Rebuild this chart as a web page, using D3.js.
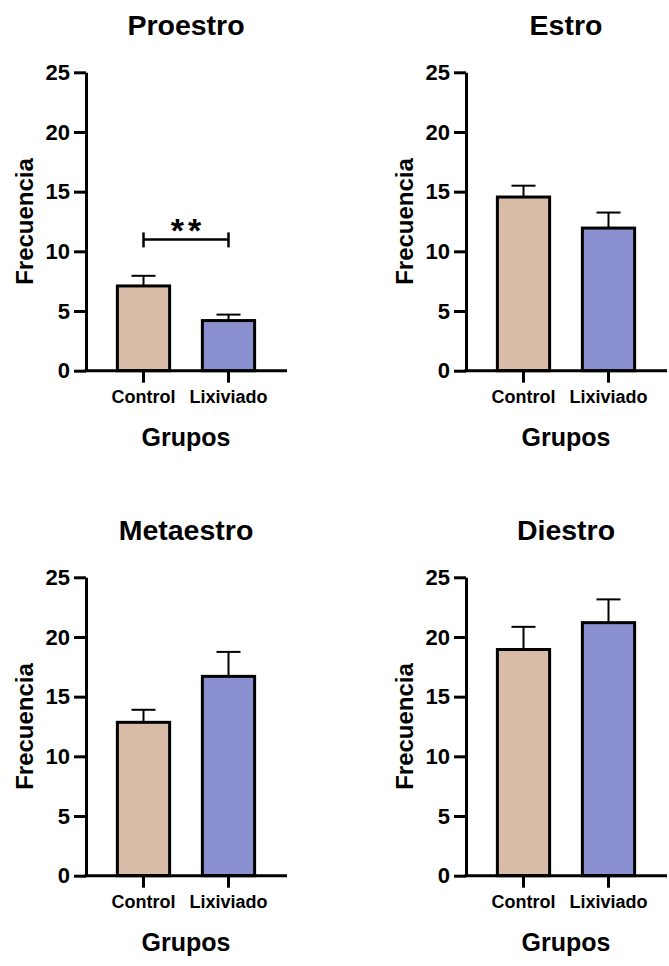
<!DOCTYPE html>
<html>
<head>
<meta charset="utf-8">
<script src="https://cdn.jsdelivr.net/npm/d3@7"></script>
<style>
  body { margin: 0; background: #fff; }
  text { font-family: "Liberation Sans", Arial, sans-serif; font-weight: bold; fill: #000; }
</style>
</head>
<body>
<div id="vis"></div>
<script>
// data
const stages = ["Proestro", "Estro", "Metaestro", "Diestro"];
const groups = ["Control", "Lixiviado"];
const means = [[7.1, 4.2], [14.55, 11.95], [12.85, 16.7], [18.95, 21.2]];
const sems = [[0.85, 0.5], [0.95, 1.3], [1.05, 2.05], [1.9, 1.95]];
const yTicks = [0, 5, 10, 15, 20, 25];
// significance annotation (Proestro only)
const sigStage = "Proestro";
const sigLevel = 11;
const sigLabel = "**";

const color = d3.scaleOrdinal().domain(groups).range(["#d8bca7", "#8a8fcf"]);

let fullW = 669, fullH = 966;
let plotW = 200, plotH = 298.4;
// axis origin (left, top) of each panel
let origins = [[86, 72.3], [466, 72.3], [86, 577.3], [466, 577.3]];

let svg = d3.select('#vis')
  .append('svg')
  .attr('width', fullW)
  .attr('height', fullH)
  .style('background-color', '#fff');

let x = d3.scaleBand()
  .domain(groups)
  .range([0, plotW])
  .paddingInner(0.35)
  .paddingOuter(0.3515);

let y = d3.scaleLinear()
  .domain([0, 25])
  .range([plotH, 0]);

stages.forEach((stage, i) => {
  let g = svg.append("g")
    .attr("transform", `translate(${origins[i][0]},${origins[i][1]})`);

  let rows = groups.map((grp, j) => ({ grp, mean: means[i][j], sem: sems[i][j] }));

  // error bars (upper only)
  let eb = g.append("g").selectAll("g")
    .data(rows)
    .join("g")
      .attr("stroke", "#000")
      .attr("stroke-width", 2);
  eb.append("line")
    .attr("x1", d => x(d.grp) + x.bandwidth() / 2)
    .attr("x2", d => x(d.grp) + x.bandwidth() / 2)
    .attr("y1", d => y(d.mean))
    .attr("y2", d => y(d.mean + d.sem));
  eb.append("line")
    .attr("x1", d => x(d.grp) + x.bandwidth() / 2 - 12)
    .attr("x2", d => x(d.grp) + x.bandwidth() / 2 + 12)
    .attr("y1", d => y(d.mean + d.sem))
    .attr("y2", d => y(d.mean + d.sem));

  // bars
  g.append("g").selectAll("rect")
    .data(rows)
    .join("rect")
      .attr("x", d => x(d.grp) + 1.5)
      .attr("y", d => y(d.mean))
      .attr("width", x.bandwidth() - 3)
      .attr("height", d => y(0) - y(d.mean))
      .attr("fill", d => color(d.grp))
      .attr("stroke", "#000")
      .attr("stroke-width", 3);

  // y axis
  let ya = g.append("g")
    .call(d3.axisLeft(y).tickValues(yTicks).tickSize(12).tickSizeOuter(0).tickPadding(4));
  ya.select(".domain").attr("stroke-width", 3);
  ya.selectAll(".tick line").attr("stroke-width", 3);
  ya.selectAll(".tick text")
    .attr("font-size", 22)
    .attr("font-family", "Liberation Sans, Arial, sans-serif")
    .attr("font-weight", "bold");

  // x axis
  let xa = g.append("g")
    .attr("transform", `translate(0,${plotH})`)
    .call(d3.axisBottom(x).tickSize(12).tickSizeOuter(0).tickPadding(8));
  xa.select(".domain").attr("stroke-width", 3).attr("d", `M-1.5,0H${plotW + 1}`);
  xa.selectAll(".tick line").attr("stroke-width", 3);
  xa.selectAll(".tick text")
    .attr("font-size", 18)
    .attr("font-family", "Liberation Sans, Arial, sans-serif")
    .attr("font-weight", "bold");

  // panel title
  g.append("text")
    .attr("x", plotW / 2)
    .attr("y", -37)
    .attr("text-anchor", "middle")
    .attr("font-size", 28.5)
    .text(stage);

  // y axis label
  g.append("text")
    .attr("transform", `translate(-53,${plotH / 2}) rotate(-90)`)
    .attr("text-anchor", "middle")
    .attr("font-size", 24)
    .text("Frecuencia");

  // x axis label
  g.append("text")
    .attr("x", plotW / 2)
    .attr("y", plotH + 75)
    .attr("text-anchor", "middle")
    .attr("font-size", 25)
    .text("Grupos");

  // significance bracket
  if (stage === sigStage) {
    let x1 = x(groups[0]) + x.bandwidth() / 2;
    let x2 = x(groups[1]) + x.bandwidth() / 2;
    let yl = y(sigLevel);
    let br = g.append("g").attr("stroke", "#000").attr("stroke-width", 2.5);
    br.append("line").attr("x1", x1).attr("x2", x2).attr("y1", yl).attr("y2", yl);
    br.append("line").attr("x1", x1).attr("x2", x1).attr("y1", yl - 7).attr("y2", yl + 8);
    br.append("line").attr("x1", x2).attr("x2", x2).attr("y1", yl - 7).attr("y2", yl + 8);
    g.append("text")
      .attr("x", (x1 + x2) / 2 + 2)
      .attr("y", yl + 3)
      .attr("text-anchor", "middle")
      .attr("font-size", 34)
      .attr("letter-spacing", 4)
      .text(sigLabel);
  }
});
</script>
</body>
</html>
